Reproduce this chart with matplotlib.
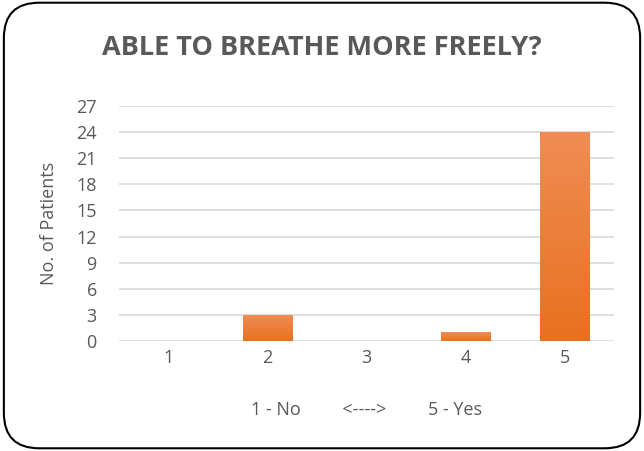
import matplotlib.pyplot as plt
import numpy as np
from matplotlib.patches import FancyBboxPatch
from matplotlib.colors import LinearSegmentedColormap

categories = ['1', '2', '3', '4', '5']
patients = [0, 3, 0, 1, 24]
yticks = [0, 3, 6, 9, 12, 15, 18, 21, 24, 27]

plt.rcParams['font.family'] = ['Open Sans', 'DejaVu Sans']
gray = '#595959'

fig = plt.figure(figsize=(6.44, 4.51), dpi=100)
ax = fig.add_axes([0.1848, 0.2439, 0.7686, 0.521])

x = np.arange(1, len(categories) + 1)
bars = ax.bar(x, patients, width=0.5, color='#ED7D31', zorder=3)

# vertical gradient on each bar
cmap = LinearSegmentedColormap.from_list('org', ['#E8711F', '#F08D55'])
grad = np.linspace(0, 1, 256).reshape(-1, 1)
for b in bars:
    h = b.get_height()
    if h <= 0:
        continue
    x0 = b.get_x()
    im = ax.imshow(grad, cmap=cmap, origin='lower', aspect='auto',
                   extent=(x0, x0 + b.get_width(), 0, h), zorder=3.5)
    im.set_clip_path(b)

ax.set_xlim(0.5, 5.5)
ax.set_ylim(0, 27)
ax.set_xticks(x)
ax.set_xticklabels(categories)
ax.set_yticks(yticks)
ax.grid(axis='y', color='#D9D9D9', linewidth=1.2, zorder=0)
ax.tick_params(length=0, labelsize=13, colors=gray)
ax.tick_params(axis='x', pad=6)
ax.tick_params(axis='y', pad=16)
for s in ax.spines.values():
    s.set_visible(False)

ax.set_ylabel('No. of Patients', fontsize=13, color=gray, labelpad=13)
ax.set_xlabel('1 - No         <---->         5 - Yes', fontsize=13, color=gray, labelpad=24)

fig.text(0.5, 0.893, 'ABLE TO BREATHE MORE FREELY?', ha='center', va='center',
         fontsize=19.5, fontweight='bold', color=gray)

border = FancyBboxPatch((0.006, 0.006), 0.988, 0.988, boxstyle='round,pad=0,rounding_size=0.055',
                        transform=fig.transFigure, facecolor='none', edgecolor='black',
                        linewidth=1.5, mutation_aspect=644 / 451)
fig.patches.append(border)

fig.savefig('out.png', dpi=100)
